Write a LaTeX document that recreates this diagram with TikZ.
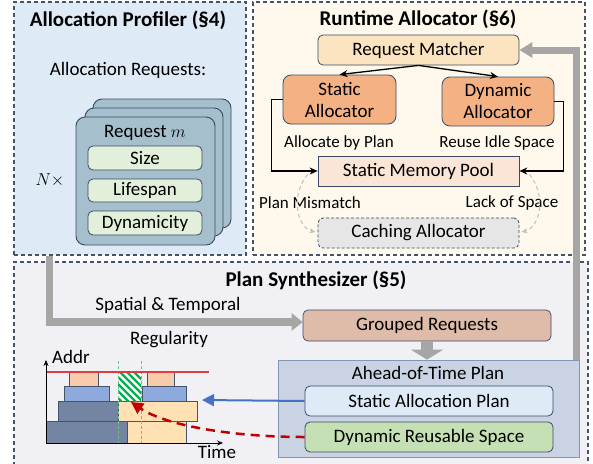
\documentclass[tikz,border=0pt]{standalone}
\usepackage{fontspec}
\setmainfont{Carlito}
\usetikzlibrary{arrows.meta,calc}
\definecolor{frameline}{HTML}{44546A}
\definecolor{edge}{HTML}{3A4A66}
\definecolor{profbg}{HTML}{DEEBF7}
\definecolor{runbg}{HTML}{FEF9EC}
\definecolor{planbg}{HTML}{F0F0F5}
\definecolor{cardfill}{HTML}{A6BFCC}
\definecolor{attrfill}{HTML}{E2EFDA}
\definecolor{rmfill}{HTML}{FDE4C0}
\definecolor{allocfill}{HTML}{F4B183}
\definecolor{smpfill}{HTML}{FBE5D6}
\definecolor{cachefill}{HTML}{E7E6E6}
\definecolor{grfill}{HTML}{DFBCA9}
\definecolor{aotfill}{HTML}{C9D3E3}
\definecolor{aotline}{HTML}{8497B0}
\definecolor{sapfill}{HTML}{DEEBF7}
\definecolor{drsfill}{HTML}{C5E0B4}
\definecolor{arrgray}{HTML}{A6A6A6}
\definecolor{curvegray}{HTML}{BFBFBF}
\definecolor{bluearr}{HTML}{4472C4}
\definecolor{redarr}{HTML}{C00000}
\definecolor{darkblk}{HTML}{7485A4}
\definecolor{ltblue}{HTML}{8EA9DB}
\definecolor{peach}{HTML}{F8CBAD}
\definecolor{beige}{HTML}{FFE1B3}
\definecolor{hatchgreen}{HTML}{00B050}
\definecolor{vgreen}{HTML}{6CC483}
\definecolor{redline}{HTML}{E03C3C}
\newcommand\fsz[2]{\fontsize{#1}{#2}\selectfont}
\tikzset{
  frame/.style={draw=frameline, dash pattern=on 4pt off 3pt, line width=1.1pt, inner sep=0pt},
  title/.style={font=\fsz{21}{24}\bfseries, inner sep=0pt},
  txt/.style={font=\fsz{19}{22}, inner sep=0pt},
  lbl/.style={font=\fsz{17}{20}, inner sep=0pt},
  rbox/.style={draw=edge, rounded corners=5pt, line width=0.8pt, inner sep=0pt, align=center, font=\fsz{19}{22}},
  sbox/.style={draw=edge, line width=0.7pt, inner sep=0pt, align=center, font=\fsz{19}{22}},
  card/.style={draw=edge, fill=cardfill, rounded corners=9pt, line width=0.9pt, inner sep=0pt},
  blackarr/.style={draw=black, line width=1.3pt, -{Stealth[length=8pt,width=7pt]}},
  grayarr/.style={draw=arrgray, line width=7.5pt, -{Triangle[width=17pt,length=11pt]}},
  dashcurve/.style={draw=curvegray, line width=1pt, dash pattern=on 4pt off 3pt, -{Stealth[length=6pt,width=5pt]}},
  blk/.style={draw=frameline, line width=0.6pt},
}
\begin{document}
\begin{tikzpicture}[x=1pt,y=-1pt]
\path[use as bounding box] (0,0) rectangle (593,463);

% ---------- frames
\node[frame, fill=planbg, minimum width=574pt, minimum height=206pt] (plan) at (301,365) {};
\node[frame, fill=profbg, minimum width=232pt, minimum height=253pt] (prof) at (130,128.5) {};
\node[frame, fill=runbg, minimum width=332pt, minimum height=253pt] (run) at (419,128.5) {};

\node[title] (proft) at (128,20) {Allocation Profiler (§4)};
\node[title] (runt) at (418,19) {Runtime Allocator (§6)};
\node[title] (plant) at (316,280) {Plan Synthesizer (§5)};

% ---------- allocation profiler
\node[txt] (areq) at (128,70) {Allocation Requests:};
\node[card, minimum width=138pt, minimum height=129pt] (card3) at (162,163.5) {};
\node[card, minimum width=138pt, minimum height=128pt] (card2) at (154,172) {};
\node[card, minimum width=139pt, minimum height=128pt] (card1) at (145.5,181) {};
\node[txt] (reqm) at (145,133) {Request $m$};
\node[rbox, fill=attrfill, minimum width=114pt, minimum height=24pt] (size) at (145,158) {Size};
\node[rbox, fill=attrfill, minimum width=114pt, minimum height=23pt] (life) at (145,190.5) {Lifespan};
\node[rbox, fill=attrfill, minimum width=114pt, minimum height=24pt] (dyn) at (145,223) {Dynamicity};
\node[txt] (ntimes) at (50,180) {$N\times$};

% ---------- runtime allocator
\node[rbox, fill=rmfill, minimum width=201pt, minimum height=30pt] (rm) at (418.5,50) {Request Matcher};
\node[rbox, fill=allocfill, rounded corners=8pt, minimum width=113pt, minimum height=49pt] (sa) at (339.5,99.5) {Static\\Allocator};
\node[rbox, fill=allocfill, rounded corners=8pt, minimum width=112pt, minimum height=49pt] (da) at (498,101.5) {Dynamic\\Allocator};
\node[lbl] (abp) at (339,143) {Allocate by Plan};
\node[lbl] (ris) at (497,143) {Reuse Idle Space};
\node[sbox, fill=smpfill, minimum width=201pt, minimum height=30pt] (smp) at (418.5,171) {Static Memory Pool};
\node[rbox, fill=cachefill, dash pattern=on 3pt off 2pt, minimum width=201pt, minimum height=30pt] (cache) at (418.5,233) {Caching Allocator};
\node[lbl] (pm) at (310,203) {Plan Mismatch};
\node[lbl] (los) at (512,203) {Lack of Space};

\draw[blackarr] (rm.south) -- (sa.north);
\draw[blackarr] (rm.south) -- (da.north);
\draw[blackarr] (sa.west) -- ++(-11,0) |- (smp.west);
\draw[blackarr] (da.east) -- ++(9,0) |- (smp.east);
\draw[dashcurve] ($(smp.south west)+(-10,-12)$) .. controls ($(smp.south west)+(-28,10)$) and ($(cache.west)+(-20,-5)$) .. ($(cache.west)+(-2,-1)$);
\draw[dashcurve] ($(smp.south east)+(10,-12)$) .. controls ($(smp.south east)+(28,10)$) and ($(cache.east)+(20,-5)$) .. ($(cache.east)+(2,-1)$);

% ---------- plan synthesizer
\node[sbox, fill=grfill, rounded corners=5pt, minimum width=248pt, minimum height=31pt] (gr) at (427,325.5) {Grouped Requests};
\node[txt] (stl) at (168,305) {Spatial \& Temporal};
\node[txt] (reg) at (169,340) {Regularity};

\node[draw=aotline, fill=aotfill, line width=0.8pt, inner sep=0pt, minimum width=301pt, minimum height=97pt] (aot) at (428.5,408.5) {};
\node[txt] (aott) at (428,373) {Ahead-of-Time Plan};
\node[rbox, fill=sapfill, minimum width=248pt, minimum height=30pt] (sap) at (429,401) {Static Allocation Plan};
\node[rbox, fill=drsfill, minimum width=248pt, minimum height=30pt] (drs) at (429,437) {Dynamic Reusable Space};

% gray arrows
\draw[grayarr] ($(prof.south west)+(36,0)$) |- ($(gr.west)+(0,-3.5)$);
\draw[draw=arrgray, line width=12pt, -{Triangle[width=32pt,length=10pt]}] (gr.south) -- (aot.north -| gr.south);
\draw[draw=arrgray, line width=7pt, -{Triangle[width=15pt,length=13pt]}] ($(aot.north east)+(-3,0)$) |- (rm.east);

% ---------- chart
\draw[blk, fill=darkblk] (46,421) rectangle (127,443);
\draw[blk, fill=darkblk] (58,401) rectangle (118,421);
\draw[blk, fill=ltblue] (64,386) rectangle (109,401);
\draw[blk, fill=peach] (69,372) rectangle (98,386);
\draw[blk, fill=beige] (127,421) rectangle (186,443);
\draw[blk, fill=beige] (118,401) rectangle (197,421);
\draw[blk, fill=ltblue] (142,386) rectangle (186,401);
\draw[blk, fill=peach] (147,372) rectangle (174,386);
\fill[white] (118,372) rectangle (141,401);
\begin{scope}
  \clip (118,372) rectangle (141,401);
  \foreach \s in {78,85,...,148}
    \draw[hatchgreen, line width=2.2pt] (\s,372) -- ++(35,35);
\end{scope}
\draw[vgreen, line width=1pt, dash pattern=on 3pt off 2pt] (118,361) -- (118,443);
\draw[vgreen, line width=1pt, dash pattern=on 3pt off 2pt] (141,361) -- (141,443);
\draw[redline, line width=1.4pt] (46,372) -- (209,372);
\draw[line width=0.8pt, -{Stealth[length=6pt,width=5pt]}] (46,443) -- (46,360);
\draw[line width=0.8pt, -{Stealth[length=6pt,width=5pt]}] (46,443) -- (223,443);
\node[txt] (addr) at (71,357) {Addr};
\node[txt] (time) at (217,452) {Time};

\coordinate (blueend) at (202,400);
\coordinate (redend) at (131,402);
\draw[draw=bluearr, line width=2pt, -{Triangle[width=12pt,length=12pt]}] (sap.west) -- (blueend);
\draw[draw=redarr, line width=2.5pt, dash pattern=on 9pt off 6pt, -{Triangle[width=12pt,length=12pt]}] (drs.west) .. controls (230,437) and (165,425) .. (redend);
\end{tikzpicture}
\end{document}
